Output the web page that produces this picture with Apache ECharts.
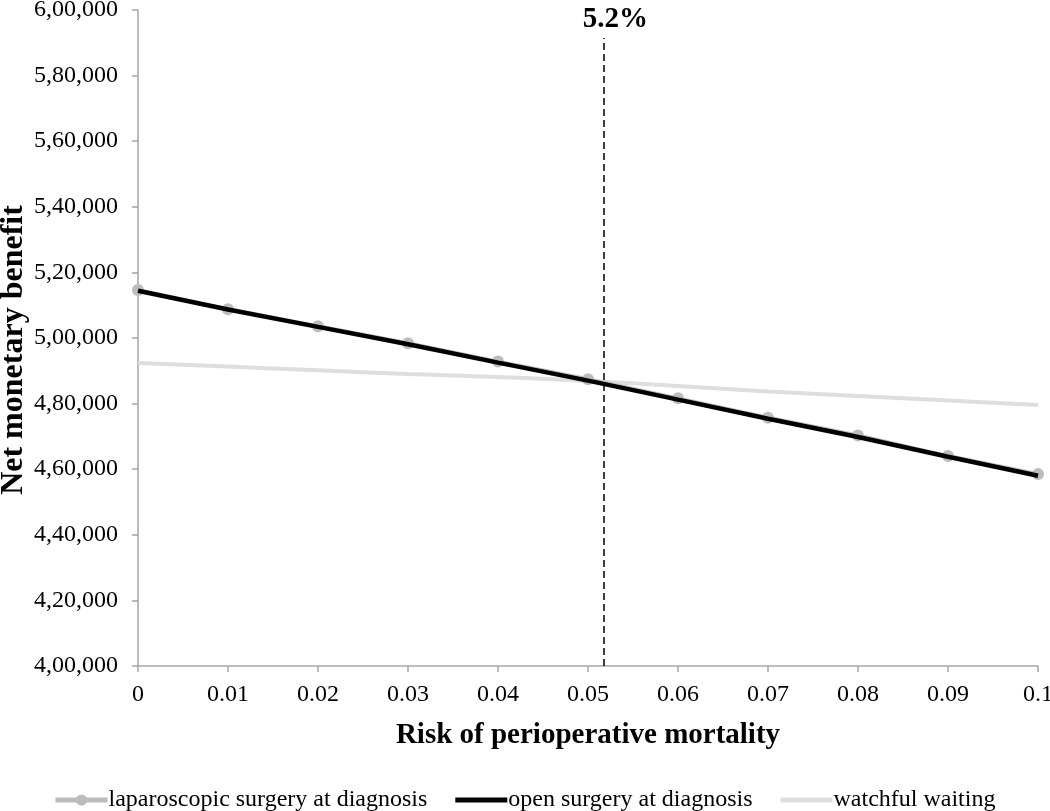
<!DOCTYPE html>
<html>
<head>
<meta charset="utf-8">
<script src="https://cdn.jsdelivr.net/npm/echarts@6/dist/echarts.min.js"></script>
<style>html,body{margin:0;padding:0;background:#fff}#c{width:1050px;height:811px}</style>
</head>
<body>
<div id="c"></div>
<script>
const riskValues = [0, 0.01, 0.02, 0.03, 0.04, 0.05, 0.06, 0.07, 0.08, 0.09, 0.1];
const laparoscopic = [514600, 508800, 503600, 498400, 492800, 487400, 481600, 475700, 470300, 464000, 458500];
const openSurgery = [514400, 508700, 503400, 498100, 492500, 487000, 481200, 475400, 469800, 463800, 458000];
const watchful = [492400, 491300, 490150, 489000, 488100, 486900, 485400, 483700, 482300, 480950, 479600];
const thresholdX = 0.0517;
const thresholdLabel = '5.2%';
const seriesNames = ['laparoscopic surgery at diagnosis', 'open surgery at diagnosis', 'watchful waiting'];

const pair = (xs, ys) => xs.map((x, i) => [x, ys[i]]);
function indianFormat(v) {
  const s = String(Math.round(v));
  if (s.length <= 3) return s;
  const last3 = s.slice(-3);
  const rest = s.slice(0, -3).replace(/\B(?=(\d{2})+(?!\d))/g, ',');
  return rest + ',' + last3;
}
const FONT = 'Liberation Serif';
const barIcon = 'path://M0,0L52,0L52,5L0,5Z';
const chart = echarts.init(document.getElementById('c'));
chart.setOption({
  animation: false,
  backgroundColor: '#fff',
  grid: { left: 138, right: 12, top: 10, bottom: 145, outerBoundsMode: 'none', containLabel: false },
  legend: {
    data: [
      { name: seriesNames[0], lineStyle: { width: 5 } },
      { name: seriesNames[1], icon: barIcon },
      { name: seriesNames[2], icon: barIcon }
    ],
    left: 48, top: 783,
    itemWidth: 52, itemHeight: 14, itemGap: 28,
    symbolKeepAspect: true,
    textStyle: { fontFamily: FONT, fontSize: 24, color: '#000', padding: [0, 0, 0, -4] }
  },
  xAxis: {
    type: 'value', min: 0, max: 0.1, interval: 0.01,
    name: 'Risk of perioperative mortality', nameLocation: 'middle', nameGap: 55, nameMoveOverlap: false,
    nameTextStyle: { fontFamily: FONT, fontSize: 29, fontWeight: 'bold', color: '#000' },
    axisLine: { show: true, lineStyle: { color: '#a6a6a6', width: 1.5 } },
    axisTick: { show: true, length: 6, lineStyle: { color: '#a6a6a6', width: 1.5 } },
    axisLabel: { fontFamily: FONT, fontSize: 24, color: '#000', margin: 17, formatter: v => String(+v.toFixed(2)) },
    splitLine: { show: false }
  },
  yAxis: {
    type: 'value', min: 400000, max: 600000, interval: 20000,
    name: 'Net monetary benefit', nameLocation: 'middle', nameGap: 108, nameMoveOverlap: false,
    nameTextStyle: { fontFamily: FONT, fontSize: 32, fontWeight: 'bold', color: '#000', padding: [0, 24, 0, 0] },
    axisLine: { show: true, lineStyle: { color: '#a6a6a6', width: 1.5 } },
    axisTick: { show: true, length: 6, lineStyle: { color: '#a6a6a6', width: 1.5 } },
    axisLabel: { fontFamily: FONT, fontSize: 24, color: '#000', margin: 20, formatter: indianFormat },
    splitLine: { show: false }
  },
  series: [
    {
      name: seriesNames[2], type: 'line', data: pair(riskValues, watchful),
      showSymbol: false, symbol: 'none', smooth: true,
      lineStyle: { color: '#dedede', width: 4 }, itemStyle: { color: '#dedede' }, z: 2
    },
    {
      name: seriesNames[0], type: 'line', data: pair(riskValues, laparoscopic),
      symbol: 'circle', symbolSize: 12,
      lineStyle: { color: '#bcbcbc', width: 4 }, itemStyle: { color: '#bcbcbc' }, z: 3
    },
    {
      name: seriesNames[1], type: 'line', data: pair(riskValues, openSurgery),
      showSymbol: false, symbol: 'none',
      lineStyle: { color: '#000', width: 4.5 }, itemStyle: { color: '#000' }, z: 4,
      markLine: {
        silent: true, symbol: 'none',
        lineStyle: { color: '#000', width: 1.5, type: [7, 4] },
        label: { show: true, position: 'end', formatter: thresholdLabel, fontFamily: FONT, fontSize: 29, fontWeight: 'bold', color: '#000', distance: 4, padding: [0, 0, 0, 24] },
        data: [[{ coord: [thresholdX, 400000] }, { coord: [thresholdX, 591500] }]]
      }
    }
  ]
});
</script>
</body>
</html>
